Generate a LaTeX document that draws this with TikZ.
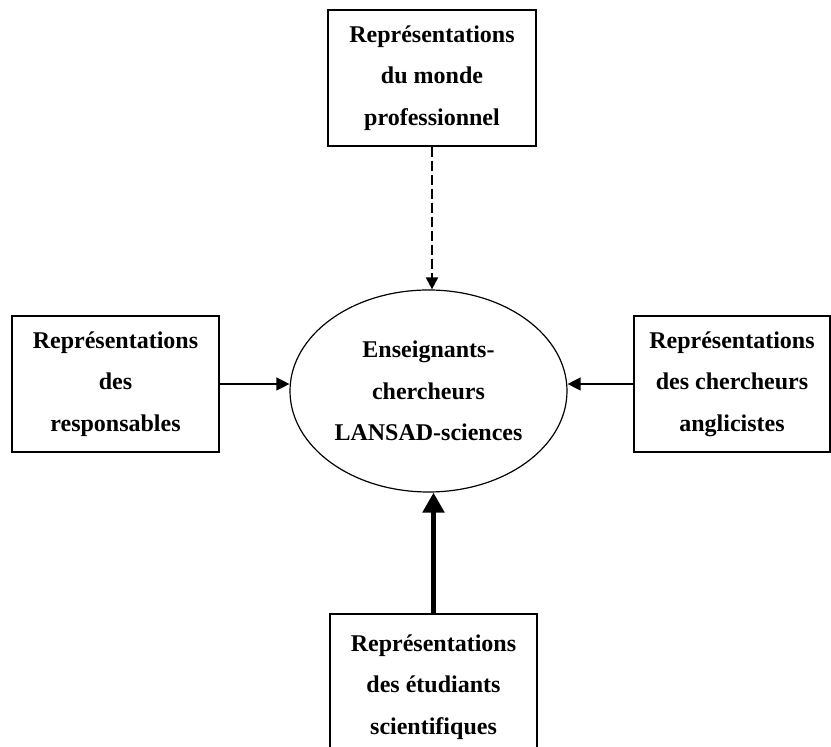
\documentclass[tikz,border=0pt]{standalone}
\usepackage{fontspec}
\setmainfont{Liberation Serif}
\usetikzlibrary{arrows.meta,calc,shapes.geometric}
\definecolor{LineClr}{rgb}{0,0,0}

\begin{document}
\begin{tikzpicture}[x=0.5pt,y=-0.5pt,
  RepBox/.style={draw=LineClr,line width=0.65pt,align=center,inner sep=0pt,
    font=\bfseries\fontsize{12}{20.8}\selectfont},
  Flow/.style={-{Triangle[length=6.5pt,width=6.5pt]},line width=0.7pt,color=LineClr},
  FlowDash/.style={-{Triangle[length=6pt,width=6pt]},line width=1pt,dash pattern=on 5pt off 2pt,color=LineClr},
  FlowThick/.style={-{Triangle[length=10pt,width=10.5pt]},line width=2.5pt,color=LineClr}]
\useasboundingbox (0,0) rectangle (831,747);

\node[RepBox,ellipse,line width=0.6pt,minimum width=138.5pt,minimum height=101pt] (centre) at (428.5,391)
  {Enseignants-\\chercheurs\\LANSAD-sciences};

\node[RepBox,minimum width=104pt,minimum height=68pt] (monde) at (432,78)
  {Représentations\\du monde\\professionnel};
\node[RepBox,minimum width=103.5pt,minimum height=68pt] (resp) at (115.5,384)
  {Représentations\\des\\responsables};
\node[RepBox,minimum width=98pt,minimum height=68pt] (angl) at (732,384)
  {Représentations\\des chercheurs\\anglicistes};
\node[RepBox,minimum width=103.5pt,minimum height=73pt] (etud) at (433.5,687)
  {Représentations\\des étudiants\\scientifiques};

\draw[FlowDash] (monde.south) -- (monde.south |- centre.north);
\draw[Flow] (resp.east) -- (resp.east -| centre.west);
\draw[Flow] (angl.west) -- (angl.west -| centre.east);
\draw[FlowThick] (etud.north) -- (etud.north |- centre.south);

\end{tikzpicture}
\end{document}
